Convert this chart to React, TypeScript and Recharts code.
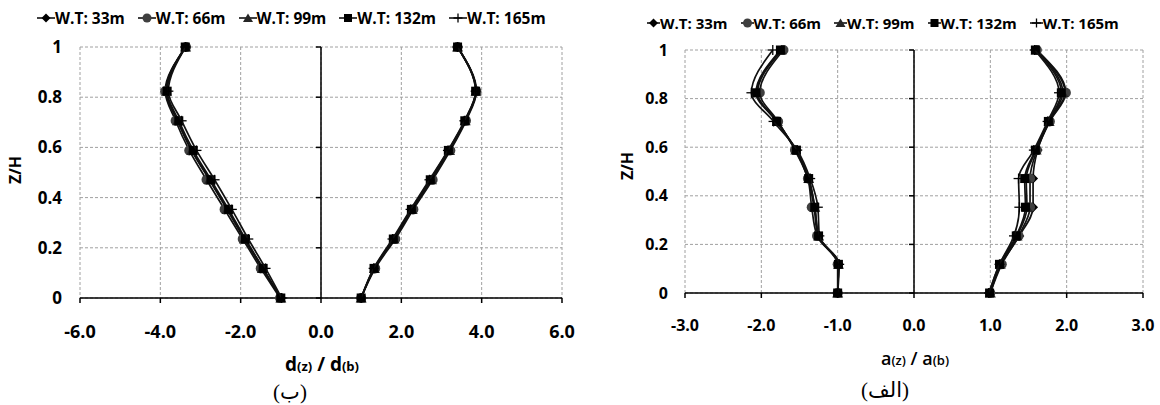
import React from 'react';
import { ScatterChart, Scatter, XAxis, YAxis, CartesianGrid, ReferenceLine } from 'recharts';

// Relative heights Z/H shared by every profile
const zLevels = [0, 0.118, 0.235, 0.353, 0.471, 0.588, 0.706, 0.824, 1];
const zTicks = [0, 0.2, 0.4, 0.6, 0.8, 1];

const seriesNames = ['W.T: 33m', 'W.T: 66m', 'W.T: 99m', 'W.T: 132m', 'W.T: 165m'];
const seriesMarkers = ['diamond', 'circle', 'triangle', 'square', 'plus'];
const seriesFills = ['#000000', '#3f3f3f', '#262626', '#000000', '#000000'];

// d(z)/d(b) profiles
const dTicks = [-6, -4, -2, 0, 2, 4, 6];
const d33Neg = [-1.0, -1.45, -1.9, -2.33, -2.77, -3.22, -3.57, -3.86, -3.38];
const d66Neg = [-1.02, -1.5, -1.95, -2.4, -2.85, -3.28, -3.62, -3.88, -3.36];
const d99Neg = [-1.0, -1.46, -1.91, -2.34, -2.78, -3.22, -3.57, -3.85, -3.37];
const d132Neg = [-1.0, -1.44, -1.88, -2.3, -2.74, -3.18, -3.54, -3.83, -3.38];
const d165Neg = [-0.98, -1.38, -1.81, -2.22, -2.65, -3.1, -3.47, -3.8, -3.37];
const d33Pos = [1.0, 1.33, 1.82, 2.27, 2.74, 3.19, 3.59, 3.86, 3.4];
const d66Pos = [1.0, 1.35, 1.85, 2.3, 2.78, 3.22, 3.61, 3.87, 3.4];
const d99Pos = [1.0, 1.33, 1.82, 2.27, 2.75, 3.2, 3.59, 3.86, 3.4];
const d132Pos = [1.0, 1.32, 1.8, 2.25, 2.72, 3.17, 3.58, 3.85, 3.4];
const d165Pos = [1.0, 1.31, 1.78, 2.23, 2.7, 3.16, 3.57, 3.85, 3.4];

// a(z)/a(b) profiles
const aTicks = [-3, -2, -1, 0, 1, 2, 3];
const a33Neg = [-1.0, -0.99, -1.26, -1.31, -1.39, -1.55, -1.8, -2.05, -1.73];
const a66Neg = [-1.0, -1.0, -1.27, -1.34, -1.39, -1.56, -1.78, -2.02, -1.71];
const a99Neg = [-1.0, -0.99, -1.25, -1.3, -1.38, -1.55, -1.79, -2.06, -1.74];
const a132Neg = [-1.0, -0.99, -1.25, -1.3, -1.38, -1.54, -1.8, -2.07, -1.75];
const a165Neg = [-1.0, -0.98, -1.24, -1.26, -1.36, -1.53, -1.84, -2.13, -1.85];
const a33Pos = [1.0, 1.14, 1.38, 1.56, 1.56, 1.62, 1.77, 1.98, 1.6];
const a66Pos = [1.0, 1.15, 1.37, 1.52, 1.52, 1.61, 1.78, 1.99, 1.61];
const a99Pos = [1.0, 1.13, 1.35, 1.48, 1.47, 1.6, 1.77, 1.95, 1.6];
const a132Pos = [0.99, 1.12, 1.34, 1.46, 1.45, 1.59, 1.76, 1.93, 1.59];
const a165Pos = [0.98, 1.12, 1.31, 1.38, 1.37, 1.57, 1.75, 1.9, 1.58];

const dProfiles = [
  [d33Neg, d33Pos], [d66Neg, d66Pos], [d99Neg, d99Pos], [d132Neg, d132Pos], [d165Neg, d165Pos],
];
const aProfiles = [
  [a33Neg, a33Pos], [a66Neg, a66Pos], [a99Neg, a99Pos], [a132Neg, a132Pos], [a165Neg, a165Pos],
];

const FONT = '"Open Sans", "Noto Sans", sans-serif';
const SERIF = '"Liberation Serif", "DejaVu Sans", serif';

function MarkerGlyph({ kind, cx, cy, fill, r = 5 }: any) {
  if (kind === 'diamond') {
    return <polygon points={`${cx},${cy - r} ${cx + r},${cy} ${cx},${cy + r} ${cx - r},${cy}`} fill={fill} />;
  }
  if (kind === 'circle') return <circle cx={cx} cy={cy} r={r} fill={fill} />;
  if (kind === 'triangle') {
    return <polygon points={`${cx},${cy - r} ${cx + r + 0.5},${cy + r - 0.5} ${cx - r - 0.5},${cy + r - 0.5}`} fill={fill} />;
  }
  if (kind === 'square') return <rect x={cx - r + 0.5} y={cy - r + 0.5} width={2 * r - 1} height={2 * r - 1} fill={fill} />;
  return (
    <g stroke={fill} strokeWidth={1.3}>
      <line x1={cx - r} y1={cy} x2={cx + r} y2={cy} />
      <line x1={cx} y1={cy - r} x2={cx} y2={cy + r} />
    </g>
  );
}

// solid axis through x = 0 with small ticks on its left side
const ZeroAxis = (props: any) => {
  const { x1, y1, y2 } = props;
  const top = Math.min(y1, y2);
  const bottom = Math.max(y1, y2);
  return (
    <g stroke="#000" strokeWidth={1.5}>
      <line x1={x1} y1={top} x2={x1} y2={bottom} />
      {zTicks.map(t => {
        const y = bottom - (bottom - top) * t;
        return <line key={t} x1={x1 - 5} y1={y} x2={x1} y2={y} />;
      })}
    </g>
  );
};

function Panel({ width, height, margin, ticks, profiles, xFont, yFont, yGap }: any) {
  const xDomain = [ticks[0], ticks[ticks.length - 1]];
  return (
    <ScatterChart width={width} height={height} margin={margin}>
      <CartesianGrid stroke="#a0a0a0" strokeDasharray="3 2" />
      <XAxis
        type="number"
        dataKey="x"
        domain={xDomain}
        ticks={ticks}
        interval={0}
        height={30}
        allowDataOverflow
        tickFormatter={(v: number) => v.toFixed(1)}
        axisLine={{ stroke: '#000', strokeWidth: 1.5 }}
        tickLine={{ stroke: '#000', strokeWidth: 1.5 }}
        tickSize={5}
        tickMargin={22}
        tick={{ fill: '#000', fontSize: xFont, fontWeight: 700, fontFamily: FONT }}
      />
      <YAxis
        type="number"
        dataKey="z"
        domain={[0, 1]}
        ticks={zTicks}
        interval={0}
        width={40}
        axisLine={false}
        tickLine={false}
        tickSize={0}
        tickMargin={yGap}
        tickFormatter={(v: number) => String(Number(v.toFixed(1)))}
        tick={{ fill: '#000', fontSize: yFont, fontWeight: 700, fontFamily: FONT }}
      />
      <ReferenceLine x={0} stroke="#000" shape={ZeroAxis} />
      {profiles.map((pair: number[][], s: number) =>
        pair.map((vals, b) => (
          <Scatter
            key={`${s}-${b}`}
            data={zLevels.map((z, i) => ({ x: vals[i], z }))}
            fill={seriesFills[s]}
            line={{ stroke: '#111', strokeWidth: 1.7 }}
            lineJointType="monotoneY"
            shape={(p: any) => <MarkerGlyph kind={seriesMarkers[s]} cx={p.cx} cy={p.cy} fill={seriesFills[s]} />}
            isAnimationActive={false}
          />
        ))
      )}
    </ScatterChart>
  );
}

function LegendRow({ left, top, gap, fontSize, keyWidth }: any) {
  return (
    <div style={{ position: 'absolute', left, top, transform: 'translateY(-50%)', display: 'flex', alignItems: 'center', gap, fontFamily: FONT, fontWeight: 700, fontSize, color: '#000', whiteSpace: 'nowrap' }}>
      {seriesNames.map((name, s) => (
        <div key={name} style={{ display: 'flex', alignItems: 'center' }}>
          <svg width={keyWidth} height={12}>
            <line x1={0} y1={6} x2={keyWidth} y2={6} stroke="#000" strokeWidth={1.5} />
            <MarkerGlyph kind={seriesMarkers[s]} cx={keyWidth / 2} cy={6} fill={seriesFills[s]} r={4.5} />
          </svg>
          <span>{name}</span>
        </div>
      ))}
    </div>
  );
}

const centered = { position: 'absolute' as const, transform: 'translate(-50%, -50%)', whiteSpace: 'nowrap' as const, color: '#000' };

export default function App() {
  return (
    <div style={{ position: 'absolute', left: 0, top: 0, width: 1160, height: 405, background: '#fff', overflow: 'hidden' }}>
      <div style={{ position: 'absolute', left: 0, top: 0 }}>
        <Panel width={580} height={405} margin={{ top: 47, right: 18, bottom: 77, left: 40 }}
          ticks={dTicks} profiles={dProfiles} xFont={18} yFont={17} yGap={18} />
      </div>
      <div style={{ position: 'absolute', left: 580, top: 0 }}>
        <Panel width={580} height={405} margin={{ top: 50, right: 17, bottom: 82, left: 65 }}
          ticks={aTicks} profiles={aProfiles} xFont={16} yFont={16} yGap={17} />
      </div>

      <LegendRow left={37} top={18} gap={13} fontSize={15.5} keyWidth={18} />
      <LegendRow left={647} top={23} gap={13} fontSize={15} keyWidth={13} />

      <div style={{ ...centered, left: 15, top: 170, transform: 'translate(-50%, -50%) rotate(-90deg)', fontFamily: FONT, fontWeight: 700, fontSize: 16 }}>Z/H</div>
      <div style={{ ...centered, left: 627, top: 166, transform: 'translate(-50%, -50%) rotate(-90deg)', fontFamily: FONT, fontWeight: 700, fontSize: 16 }}>Z/H</div>

      <div style={{ ...centered, left: 322, top: 364, fontFamily: FONT, fontWeight: 700, fontSize: 19 }}>
        d<span style={{ fontSize: 13 }}>(z)</span> / d<span style={{ fontSize: 13 }}>(b)</span>
      </div>
      <div style={{ ...centered, left: 915, top: 358, fontFamily: FONT, fontWeight: 600, fontSize: 18 }}>
        a<span style={{ fontSize: 13 }}>(z)</span> / a<span style={{ fontSize: 13 }}>(b)</span>
      </div>

      <div style={{ ...centered, left: 290, top: 392, fontFamily: SERIF, fontSize: 21 }}>(ب)</div>
      <div style={{ ...centered, left: 885, top: 390, fontFamily: SERIF, fontSize: 21 }}>(الف)</div>
    </div>
  );
}
